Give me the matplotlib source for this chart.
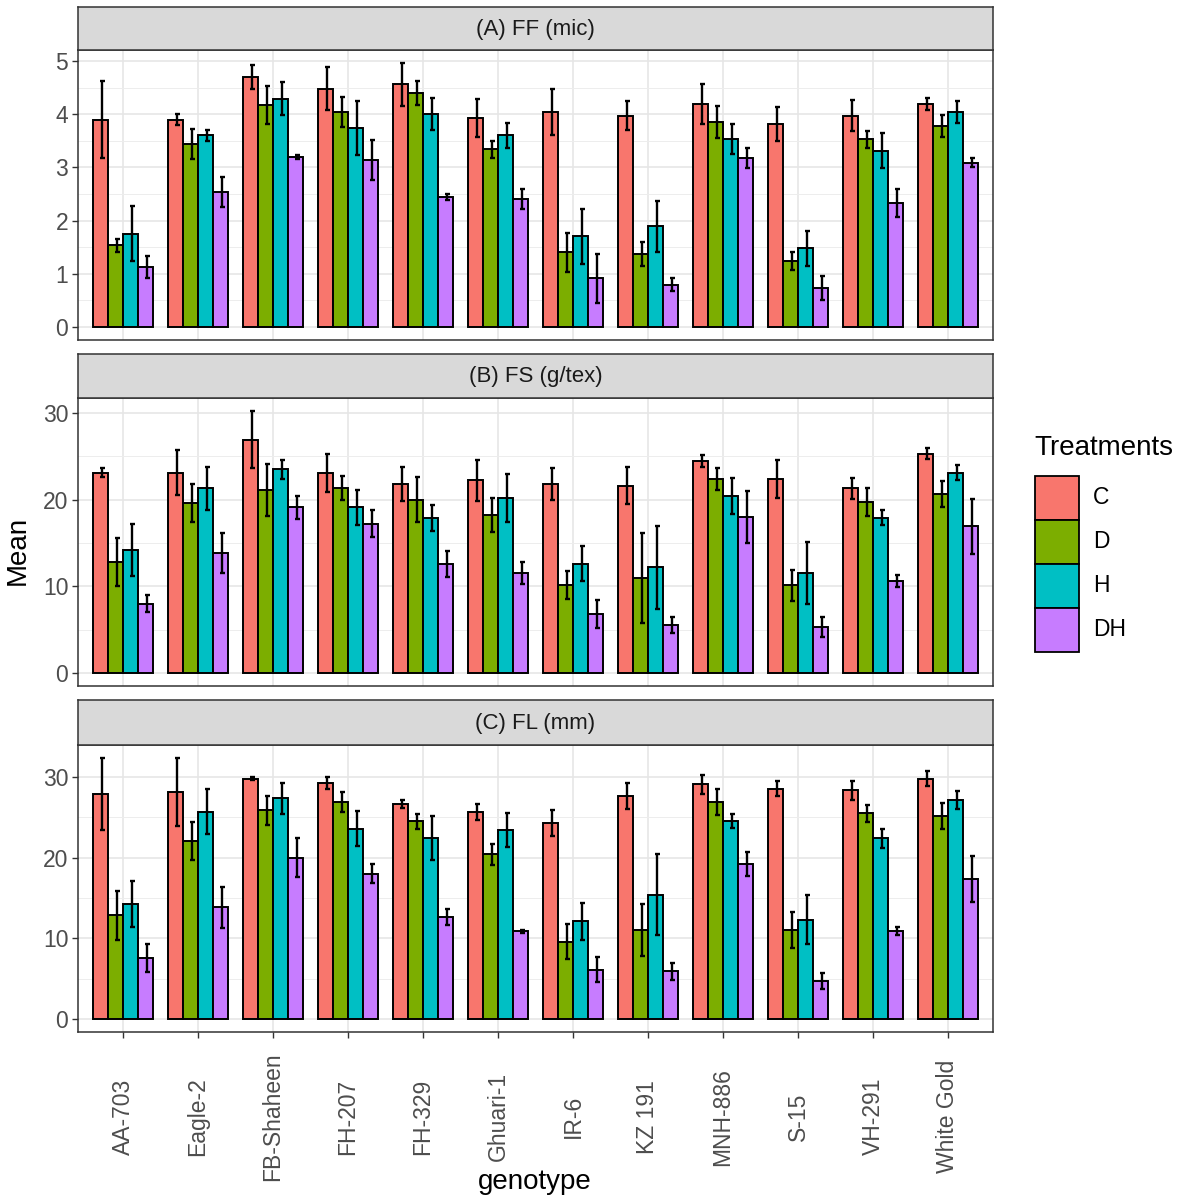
import numpy as np
import matplotlib
matplotlib.use("Agg")
import matplotlib.pyplot as plt
from matplotlib.patches import Rectangle

plt.rcParams['font.family'] = ['Liberation Sans', 'DejaVu Sans']

genotypes = ['AA-703', 'Eagle-2', 'FB-Shaheen', 'FH-207', 'FH-329', 'Ghuari-1',
             'IR-6', 'KZ 191', 'MNH-886', 'S-15', 'VH-291', 'White Gold']
treatments = ['C', 'D', 'H', 'DH']
colors = ['#F8766D', '#7CAE00', '#00BFC4', '#C77CFF']

# rows = genotype, columns = C, D, H, DH
ff_mean = [[3.90, 1.53, 1.75, 1.12], [3.90, 3.44, 3.60, 2.54], [4.70, 4.18, 4.29, 3.20],
           [4.48, 4.04, 3.74, 3.14], [4.56, 4.40, 4.00, 2.44], [3.93, 3.34, 3.60, 2.40],
           [4.04, 1.40, 1.70, 0.91], [3.97, 1.37, 1.89, 0.79], [4.19, 3.86, 3.53, 3.17],
           [3.82, 1.23, 1.48, 0.73], [3.97, 3.53, 3.31, 2.33], [4.19, 3.78, 4.04, 3.09]]
ff_se = [[0.73, 0.12, 0.52, 0.21], [0.11, 0.28, 0.10, 0.28], [0.22, 0.36, 0.31, 0.04],
         [0.41, 0.28, 0.50, 0.37], [0.40, 0.22, 0.30, 0.05], [0.36, 0.16, 0.24, 0.19],
         [0.44, 0.36, 0.51, 0.46], [0.27, 0.22, 0.48, 0.12], [0.38, 0.30, 0.28, 0.19],
         [0.32, 0.17, 0.33, 0.22], [0.29, 0.16, 0.33, 0.27], [0.11, 0.20, 0.20, 0.08]]

fs_mean = [[23.1, 12.8, 14.2, 8.0], [23.1, 19.6, 21.3, 13.8], [26.9, 21.1, 23.5, 19.1],
           [23.1, 21.3, 19.1, 17.2], [21.8, 20.0, 17.9, 12.6], [22.2, 18.2, 20.2, 11.5],
           [21.8, 10.1, 12.6, 6.8], [21.6, 10.9, 12.2, 5.5], [24.4, 22.4, 20.4, 18.0],
           [22.4, 10.1, 11.5, 5.3], [21.3, 19.7, 17.9, 10.6], [25.3, 20.6, 23.1, 16.9]]
fs_se = [[0.5, 2.8, 3.0, 1.0], [2.6, 2.2, 2.5, 2.3], [3.3, 3.0, 1.1, 1.35],
         [2.2, 1.4, 2.05, 1.55], [1.95, 2.6, 1.5, 1.5], [2.35, 2.0, 2.8, 1.25],
         [1.85, 1.6, 2.0, 1.6], [2.15, 5.2, 4.8, 0.95], [0.7, 1.25, 2.1, 3.0],
         [2.2, 1.8, 3.6, 1.15], [1.2, 1.6, 0.85, 0.7], [0.65, 1.5, 0.9, 3.15]]

fl_mean = [[27.9, 12.85, 14.25, 7.55], [28.1, 22.05, 25.7, 13.85], [29.8, 25.9, 27.35, 20.0],
           [29.3, 26.9, 23.6, 18.0], [26.7, 24.5, 22.4, 12.6], [25.7, 20.4, 23.4, 10.85],
           [24.3, 9.6, 12.1, 6.1], [27.65, 11.05, 15.4, 5.9], [29.1, 26.9, 24.55, 19.2],
           [28.55, 11.05, 12.3, 4.7], [28.35, 25.5, 22.4, 10.85], [29.8, 25.15, 27.15, 17.35]]
fl_se = [[4.45, 3.0, 2.9, 1.75], [4.2, 2.4, 2.8, 2.55], [0.2, 1.8, 1.9, 2.4],
         [0.75, 1.3, 2.2, 1.2], [0.5, 0.9, 2.75, 1.0], [1.0, 1.35, 2.1, 0.2],
         [1.6, 2.2, 2.25, 1.55], [1.6, 3.2, 5.0, 1.05], [1.15, 1.6, 0.85, 1.45],
         [0.9, 2.2, 3.05, 1.0], [1.15, 1.05, 1.15, 0.5], [0.95, 1.6, 1.1, 2.9]]

panels = [('(A) FF (mic)', ff_mean, ff_se, [0, 1, 2, 3, 4, 5], 0.5),
          ('(B) FS (g/tex)', fs_mean, fs_se, [0, 10, 20, 30], 5),
          ('(C) FL (mm)', fl_mean, fl_se, [0, 10, 20, 30], 5)]

W, H = 1181, 1200
fig = plt.figure(figsize=(W / 100, H / 100), dpi=100)

# pixel boxes: (strip top, plot top, plot bottom)
boxes = [(7, 50, 340), (354, 398, 686), (700, 745, 1032)]
left_px, right_px = 78, 993
grey20 = '#333333'
x = np.arange(len(genotypes))
bw = 0.2

for k, (title, mean, se, yticks, minor) in enumerate(panels):
    st, pt, pb = boxes[k]
    ax = fig.add_axes([left_px / W, 1 - pb / H, (right_px - left_px) / W, (pb - pt) / H])
    sax = fig.add_axes([left_px / W, 1 - pt / H, (right_px - left_px) / W, (pt - st) / H])

    mean = np.array(mean)
    se = np.array(se)
    for j in range(len(treatments)):
        xpos = x + (j - 1.5) * bw
        ax.bar(xpos, mean[:, j], width=bw, color=colors[j], edgecolor='black',
               linewidth=1.4, zorder=3)
        ax.errorbar(xpos + 0.02, mean[:, j], yerr=se[:, j], fmt='none', ecolor='black',
                    elinewidth=1.7, capsize=1.8, capthick=1.7, zorder=4)

    top = (mean + se).max()
    lo, hi = -0.05 * top, 1.05 * top
    ax.set_yticks(yticks)
    minor_ticks = np.arange(yticks[0] + minor, hi, minor * 2)
    ax.set_yticks(minor_ticks, minor=True)
    ax.set_xticks(x)
    ax.set_ylim(lo, hi)
    ax.set_xlim(-0.6, len(genotypes) - 0.4)
    ax.grid(True, which='major', color='#E6E6E6', linewidth=1.2, zorder=0)
    ax.grid(True, which='minor', axis='y', color='#EDEDED', linewidth=0.7, zorder=0)
    ax.set_axisbelow(True)
    ax.tick_params(axis='y', which='major', labelsize=16.5, labelcolor='#4D4D4D',
                   color=grey20, length=4, width=1, pad=3)
    ax.tick_params(axis='y', which='minor', length=0)
    for s in ax.spines.values():
        s.set_color(grey20)
        s.set_linewidth(1.1)

    if k < 2:
        ax.tick_params(axis='x', length=0, labelbottom=False)
    else:
        ax.set_xticklabels(genotypes, rotation=90, va='center', ha='center')
        ax.tick_params(axis='x', labelsize=16.5, labelcolor='#4D4D4D', color=grey20,
                       length=4, width=1, pad=57)

    sax.set_facecolor('#D9D9D9')
    sax.set_xticks([])
    sax.set_yticks([])
    for s in sax.spines.values():
        s.set_color(grey20)
        s.set_linewidth(1.1)
    sax.text(0.5, 0.48, title, ha='center', va='center', fontsize=16, color='#1A1A1A',
             transform=sax.transAxes)

fig.text(18 / W, 1 - 550 / H, 'Mean', rotation=90, ha='center', va='center', fontsize=20)
fig.text(535 / W, 1 - 1182 / H, 'genotype', ha='center', va='center', fontsize=20)

# legend drawn by hand so the keys sit where ggplot put them
fig.text(1034 / W, 1 - 448 / H, 'Treatments', ha='left', va='center', fontsize=20)
key_top, key_size = 476, 44
for j, (lab, c) in enumerate(zip(treatments, colors)):
    y0 = key_top + j * key_size
    fig.add_artist(Rectangle((1035 / W, 1 - (y0 + key_size) / H), key_size / W, key_size / H,
                             transform=fig.transFigure, facecolor=c, edgecolor='black',
                             linewidth=1.3))
    fig.text(1093 / W, 1 - (y0 + key_size / 2) / H, lab, ha='left', va='center',
             fontsize=16.5)

fig.savefig('out.png', dpi=100)
